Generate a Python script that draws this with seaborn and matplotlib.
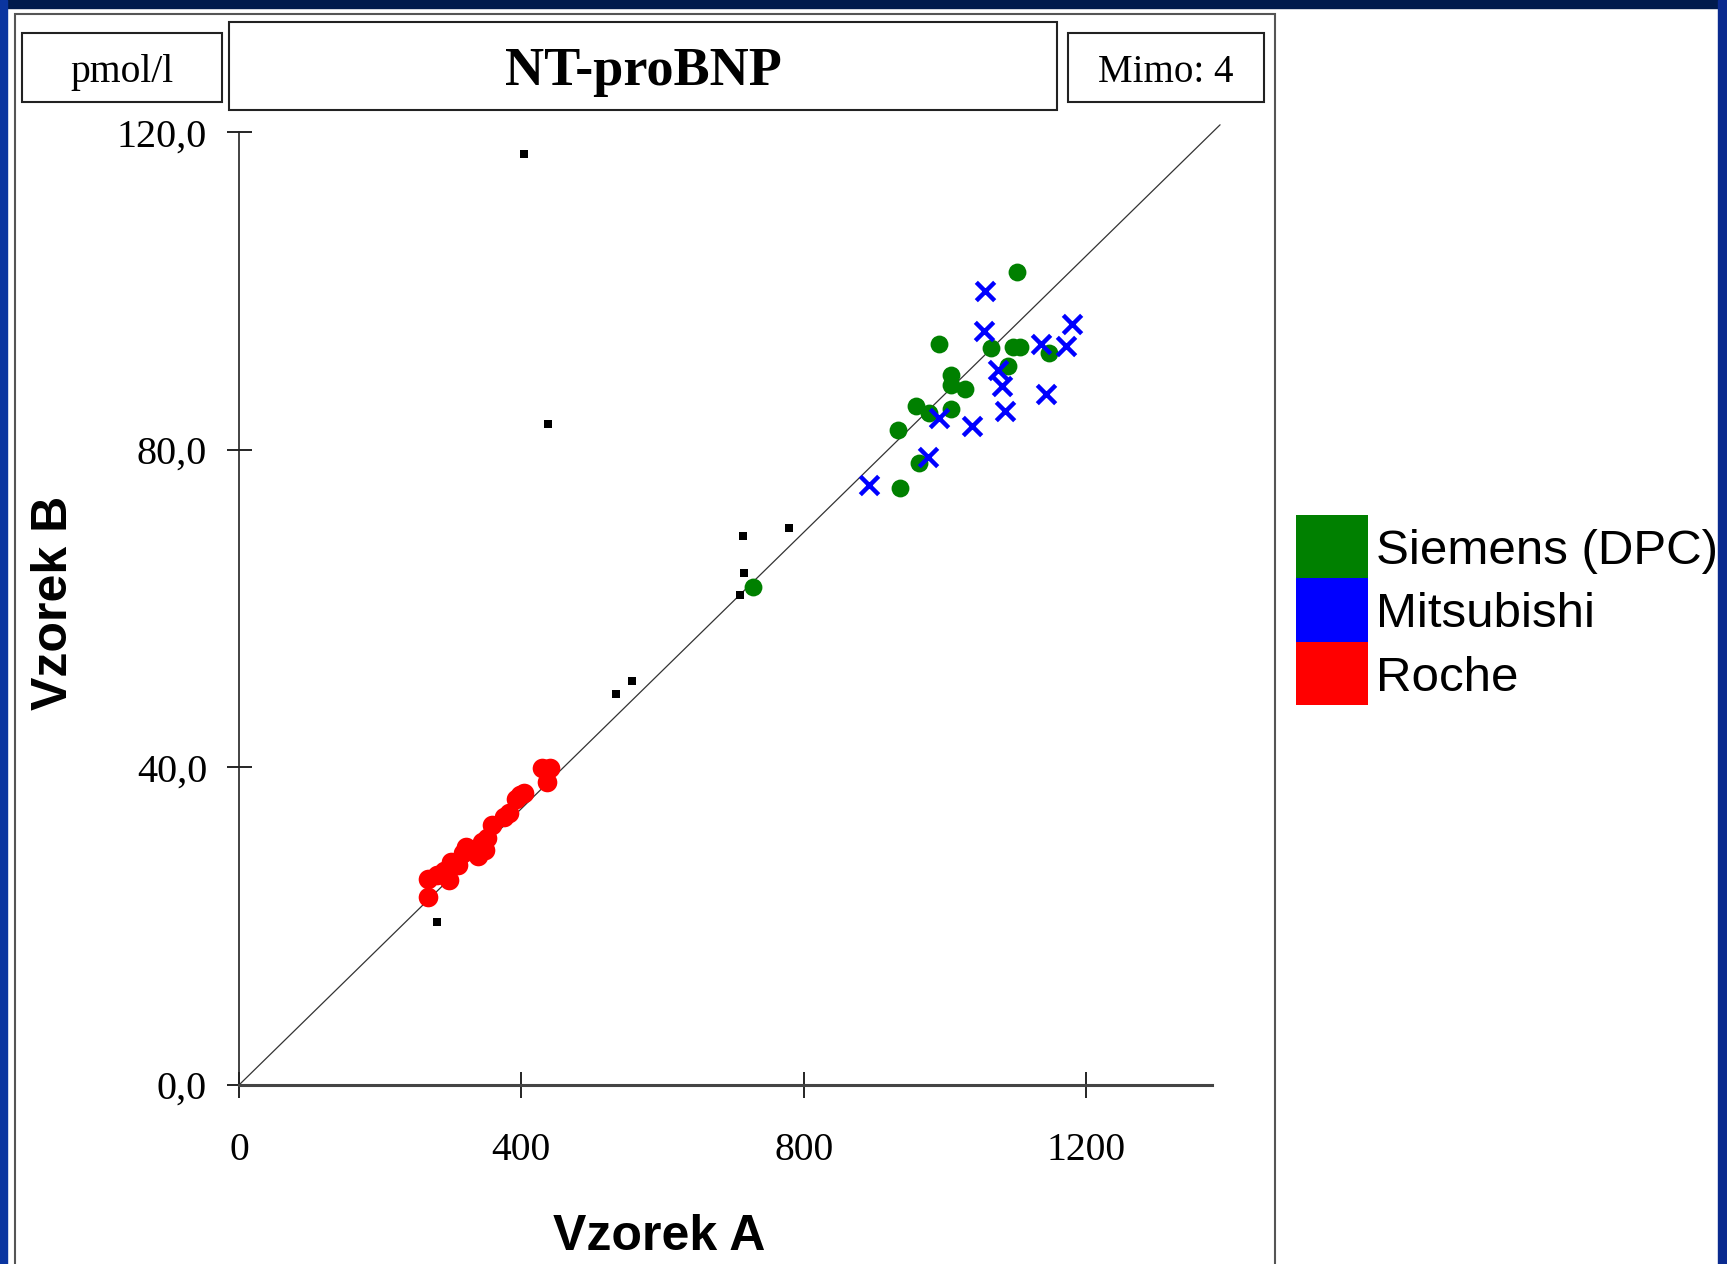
import pandas as pd
import seaborn as sns
import matplotlib.pyplot as plt
from matplotlib.patches import Rectangle

# Data (x = Vzorek A, y = Vzorek B)
roche_x = [268, 268, 280, 290, 297, 301, 310, 318, 322, 332, 338, 344, 348, 352, 358, 376, 382, 392, 398, 404, 429, 441, 436]
roche_y = [23.7, 26.0, 26.4, 27.0, 25.8, 28.1, 27.7, 29.2, 30.0, 29.6, 28.9, 30.6, 29.6, 31.1, 32.7, 33.7, 34.2, 36.0, 36.5, 36.8, 39.9, 39.9, 38.2]

siemens_x = [1102, 992, 1066, 1097, 1106, 1147, 1090, 1009, 1009, 1029, 959, 978, 1009, 933, 964, 937, 728]
siemens_y = [102.4, 93.3, 92.8, 93.0, 93.0, 92.2, 90.5, 89.4, 88.2, 87.6, 85.5, 84.6, 85.1, 82.5, 78.4, 75.2, 62.7]

mitsubishi_x = [1057, 1055, 1137, 1172, 1180, 1076, 1081, 1143, 1086, 992, 1039, 976, 892]
mitsubishi_y = [100.0, 94.9, 93.3, 93.1, 95.8, 90.1, 88.0, 87.0, 84.9, 84.0, 83.0, 79.1, 75.6]

other_x = [404, 438, 714, 779, 716, 710, 534, 557, 281]
other_y = [117.3, 83.3, 69.1, 70.2, 64.5, 61.7, 49.3, 50.9, 20.5]

# reference line y = k * x
line_x = [0, 1390]
line_k = 0.087

x_ticks = [0, 400, 800, 1200]
x_ticklabels = ['0', '400', '800', '1200']
y_ticks = [0, 40, 80, 120]
y_ticklabels = ['0,0', '40,0', '80,0', '120,0']

legend_labels = ['Siemens (DPC)', 'Mitsubishi', 'Roche']
legend_colors = ['#008000', '#0000ff', '#ff0000']

title = 'NT-proBNP'
unit_label = 'pmol/l'
out_label = 'Mimo: 4'

sns.set_style('white')
plt.rcParams['font.family'] = ['Liberation Serif', 'DejaVu Serif']
plt.rcParams['text.color'] = 'black'
plt.rcParams['axes.labelcolor'] = 'black'
plt.rcParams['xtick.color'] = 'black'
plt.rcParams['ytick.color'] = 'black'

W, H = 1727, 1264
fig = plt.figure(figsize=(W / 100, H / 100), dpi=100)
fig.patch.set_facecolor('white')


def fx(px):
    return px / W


def fy(py):
    return 1 - py / H


# frame decoration
fig.add_artist(Rectangle((0, fy(8)), 1, 8 / H, transform=fig.transFigure, color='#001a4d', zorder=0))
fig.add_artist(Rectangle((0, 0), fx(7), 1, transform=fig.transFigure, color='#0a35a0', zorder=0))
fig.add_artist(Rectangle((fx(1718), 0), fx(9), 1, transform=fig.transFigure, color='#0a2a8f', zorder=0))
fig.add_artist(Rectangle((fx(15), -0.01), fx(1260), fy(14) + 0.01, transform=fig.transFigure,
                         fill=False, edgecolor='#555555', lw=1.5, zorder=1))

# header boxes
boxes = [(22, 33, 222, 102, unit_label, 28.5, 'normal', 5),
         (229, 22, 1057, 110, title, 39, 'bold', 6),
         (1068, 33, 1264, 102, out_label, 28, 'normal', 5)]
for x0, y0, x1, y1, txt, fs, fw, dy in boxes:
    fig.add_artist(Rectangle((fx(x0), fy(y1)), fx(x1 - x0), (y1 - y0) / H, transform=fig.transFigure,
                             fill=False, edgecolor='#222222', lw=1.5))
    fig.text(fx((x0 + x1) / 2), fy((y0 + y1) / 2 + dy), txt, ha='center', va='center',
             fontsize=fs, fontweight=fw)

# axes
x_max, y_max = 1392, 121.2
ax = fig.add_axes([fx(239), fy(1085), fx(239 + x_max * 0.7058) - fx(239), y_max * 7.94 / H])

ax.plot(line_x, [v * line_k for v in line_x], color='#333333', lw=0.9, zorder=1)

sns.scatterplot(x=other_x, y=other_y, marker='s', s=28, color='black', linewidth=0, ax=ax, zorder=2)
sns.scatterplot(x=roche_x, y=roche_y, marker='o', s=200, color='#ff0000', linewidth=0, ax=ax, zorder=3)
sns.scatterplot(x=siemens_x, y=siemens_y, marker='o', s=165, color='#008000', linewidth=0, ax=ax, zorder=3)
sns.scatterplot(x=mitsubishi_x, y=mitsubishi_y, marker='x', s=175, color='#0000ff', linewidth=3.2, ax=ax, zorder=4)

ax.set_xlim(0, x_max)
ax.set_ylim(0, y_max)
ax.set_xticks(x_ticks)
ax.set_xticklabels(x_ticklabels)
ax.set_yticks(y_ticks)
ax.set_yticklabels(y_ticklabels)
ax.tick_params(axis='x', bottom=True, direction='inout', length=19, width=1.2, pad=24, labelsize=28.5)
ax.tick_params(axis='y', left=True, direction='inout', length=18, width=1.2, pad=14, labelsize=29)

sns.despine(ax=ax)
ax.spines['left'].set_bounds(0, 120)
ax.spines['bottom'].set_bounds(0, 1378)
ax.spines['left'].set_linewidth(1.2)
ax.spines['bottom'].set_linewidth(2.2)
ax.spines['left'].set_color('#222222')
ax.spines['bottom'].set_color('#444444')

ax.set_xlabel('Vzorek A', fontsize=36, fontweight='bold', family=['Liberation Sans', 'DejaVu Sans'])
ax.set_ylabel('Vzorek B', fontsize=36, fontweight='bold', family=['Liberation Sans', 'DejaVu Sans'])
ax.xaxis.set_label_coords((659 - 239) / (x_max * 0.7058), (1085 - 1237) / (y_max * 7.94))
ax.yaxis.set_label_coords((54 - 239) / (x_max * 0.7058), (1085 - 603) / (y_max * 7.94))
ax.xaxis.label.set_va('center')
ax.yaxis.label.set_va('center')

# legend: stacked colour blocks
top, step = 515, 63.3
for i, (lab, col) in enumerate(zip(legend_labels, legend_colors)):
    y0 = top + i * step
    fig.add_artist(Rectangle((fx(1296), fy(y0 + step)), fx(72), step / H, transform=fig.transFigure,
                             color=col, lw=0))
    fig.text(fx(1376), fy(y0 + step / 2 + 5), lab, ha='left', va='center', fontsize=35.5,
             family=['Liberation Sans', 'DejaVu Sans'])

fig.savefig('out.png', dpi=100)
